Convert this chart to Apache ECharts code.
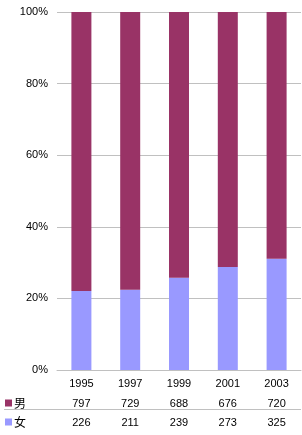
<!DOCTYPE html>
<html><head><meta charset="utf-8">
<script src="https://cdn.jsdelivr.net/npm/echarts@6/dist/echarts.min.js"></script>
<style>html,body{margin:0;padding:0;background:#fff}#c{width:302px;height:435px}</style>
</head><body><div id="c"></div>
<script>
const years = ['1995', '1997', '1999', '2001', '2003'];
const men = [797, 729, 688, 676, 720];
const women = [226, 211, 239, 273, 325];
const yTicks = [0, 20, 40, 60, 80, 100];

const menPct = men.map((v, i) => v / (v + women[i]) * 100);
const womenPct = women.map((v, i) => v / (men[i] + v) * 100);

const font = 'Liberation Sans, Arial, sans-serif';
const cjk = 'Noto Sans CJK SC, sans-serif';
const chart = echarts.init(document.getElementById('c'), null, {renderer: 'canvas'});
const rowAxis = (vals, off) => ({
  type: 'category', data: vals.map(String), position: 'bottom', offset: off,
  axisLine: {show: false}, axisTick: {show: false}, splitLine: {show: false},
  axisLabel: {color: '#000', fontSize: 11, fontFamily: font, margin: 8, interval: 0}
});
chart.setOption({
  animation: false,
  grid: {left: 57, right: 1, top: 12, bottom: 65},
  legend: {
    data: ['男', '女'], orient: 'vertical', left: 5, top: 397,
    itemWidth: 7, itemHeight: 7, itemGap: 7, icon: 'rect',
    textStyle: {fontSize: 12, fontFamily: cjk, color: '#000', padding: [0, 0, 0, -3]},
    padding: 0, selectedMode: false
  },
  xAxis: [
    {type: 'category', data: years,
     axisLine: {show: true, lineStyle: {color: '#c0c0c0'}}, axisTick: {show: false},
     axisLabel: {color: '#000', fontSize: 11, fontFamily: font, margin: 8}},
    rowAxis(men, 20),
    rowAxis(women, 39)
  ],
  yAxis: {
    type: 'value', min: yTicks[0], max: yTicks[yTicks.length - 1], interval: 20,
    axisLine: {show: false}, axisTick: {show: false},
    axisLabel: {formatter: '{value}%', color: '#000', fontSize: 11, fontFamily: font, margin: 9},
    splitLine: {lineStyle: {color: '#c0c0c0', width: 1}}
  },
  graphic: [{
    type: 'line', shape: {x1: 4, y1: 409.5, x2: 301, y2: 409.5},
    style: {stroke: '#c0c0c0', lineWidth: 1}
  }],
  series: [
    {name: '女', type: 'bar', stack: 's', data: womenPct, barWidth: 20,
     itemStyle: {color: '#9999ff'}},
    {name: '男', type: 'bar', stack: 's', data: menPct, barWidth: 20,
     itemStyle: {color: '#993366'}}
  ]
});
</script></body></html>
